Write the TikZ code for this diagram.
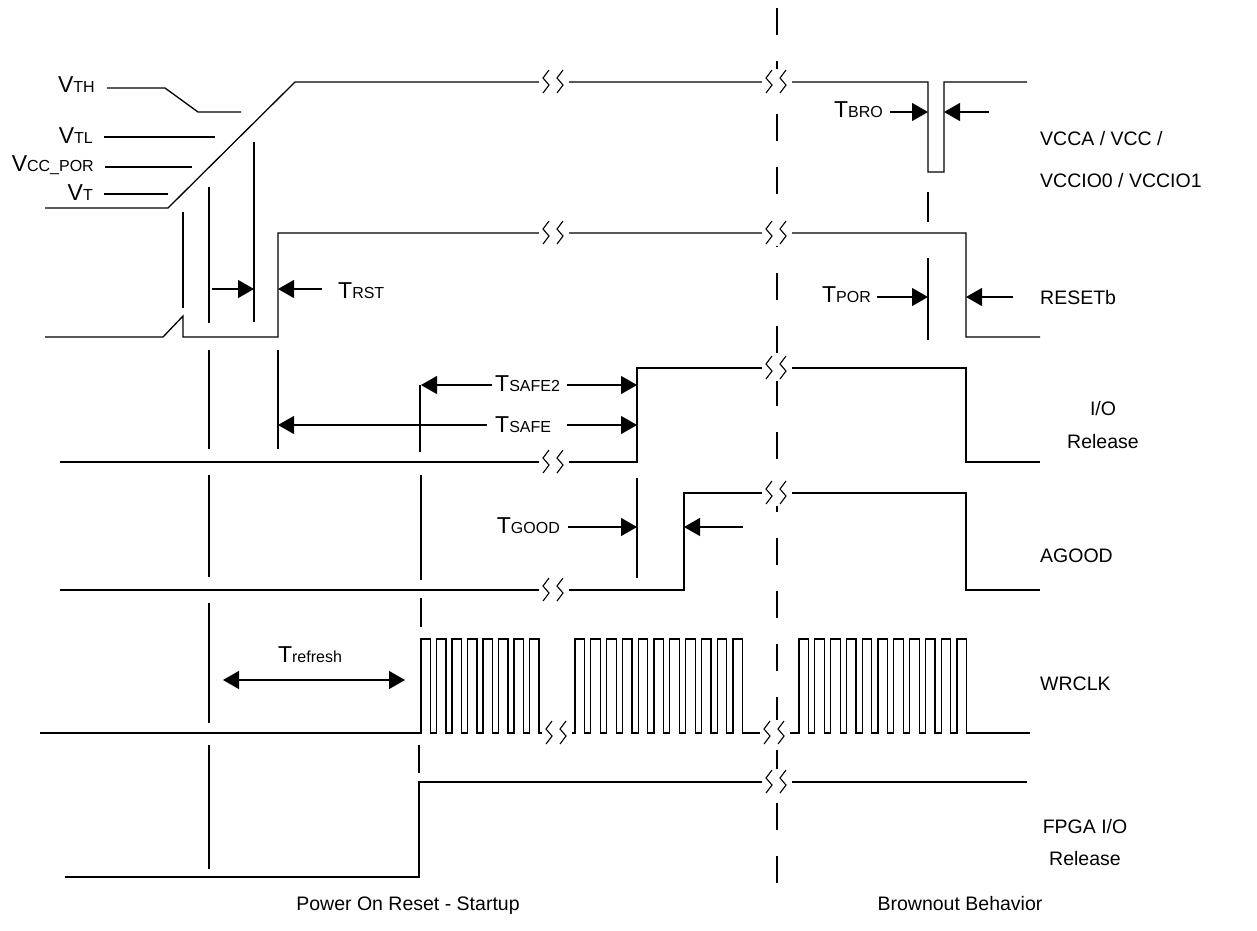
\documentclass[tikz,border=0pt]{standalone}
\usepackage{fontspec}
\setmainfont{Liberation Sans}
\usetikzlibrary{arrows.meta}
\newcommand\lbl[2]{{\fontsize{23}{26}\selectfont #1}{\fontsize{16}{18}\selectfont #2}}
\newcommand\brkmark[2]{%
 \fill[white] ({#1-15},{#2-13}) rectangle ({#1+15},{#2+13});
 \draw[brk] ({#1-5},{#2-12}) -- ({#1-11},{#2-4}) -- ({#1-5},{#2+3}) -- ({#1-11},{#2+11});
 \draw[brk] ({#1+9},{#2-12}) -- ({#1+3},{#2-4}) -- ({#1+9},{#2+3}) -- ({#1+3},{#2+11});
}
\begin{document}
\begin{tikzpicture}[x=1pt,y=-1pt,
  sig/.style={line width=1.3pt,line join=miter},
  mk/.style={line width=1.3pt},
  brk/.style={line width=1.1pt},
  arr/.style={line width=1.3pt,-{Triangle[length=16pt,width=18pt]}},
  darr/.style={line width=1.3pt,{Triangle[length=16pt,width=18pt]}-{Triangle[length=16pt,width=18pt]}},
  txt/.style={inner sep=0pt,font=\fontsize{19.5}{23}\selectfont},
  tl/.style={inner sep=0pt}]
\useasboundingbox (0,0) rectangle (1257,930);
% centre dash line
\draw[line width=1.3pt,dash pattern=on 27pt off 26pt] (777,8) -- (777,885);
% signals
\draw[sig] (45,208) -- (168,208) -- (295,82) -- (928,82) -- (928,172) -- (944,172) -- (944,82) -- (1027,82);
\draw[sig] (45,337) -- (163,337) -- (183,316) -- (183,337) -- (278,337) -- (278,233) -- (966,233) -- (966,337) -- (1040,337);
\draw[sig] (60,462) -- (637,462) -- (637,368) -- (966,368) -- (966,462) -- (1040,462);
\draw[sig] (60,590) -- (684,590) -- (684,493) -- (966,493) -- (966,590) -- (1040,590);
\draw[sig] (40,733)
  foreach \k in {0,...,7} { -- ({421+15.5*\k},733) -- ({421+15.5*\k},639) -- ({430.6+15.5*\k},639) -- ({430.6+15.5*\k},733) }
  foreach \k in {0,...,10} { -- ({575+15.8*\k},733) -- ({575+15.8*\k},639) -- ({584.6+15.8*\k},639) -- ({584.6+15.8*\k},733) }
  foreach \k in {0,...,10} { -- ({799+15.8*\k},733) -- ({799+15.8*\k},639) -- ({808.6+15.8*\k},639) -- ({808.6+15.8*\k},733) }
  -- (1030,733);
\draw[sig] (65,877) -- (419,877) -- (419,782) -- (1027,782);
% threshold lines
\draw[mk] (107,88) -- (165,88) -- (198,112) -- (241,112);
\draw[mk] (104,137) -- (215,137);
\draw[mk] (105,167) -- (192,167);
\draw[mk] (104,194) -- (168,194);
\node[tl,anchor=base east] (vth) at (95,92) {\lbl{V}{TH}};
\node[tl,anchor=base east] (vtl) at (93,143) {\lbl{V}{TL}};
\node[tl,anchor=base east] (vpor) at (94,171) {\lbl{V}{CC\_POR}};
\node[tl,anchor=base east] (vt) at (93,200) {\lbl{V}{T}};
% vertical markers
\draw[mk] (183,212) -- (183,308);
\draw[mk] (209,187) -- (209,323);
\draw[mk] (209,350) -- (209,449);
\draw[mk] (209,475) -- (209,577);
\draw[mk] (209,603) -- (209,723);
\draw[mk] (209,745) -- (209,869);
\draw[mk] (254,142) -- (254,322);
\draw[mk] (278,350) -- (278,449);
\draw[mk] (420,385) -- (420,452);
\draw[mk] (421,475) -- (421,580);
\draw[mk] (421,598) -- (421,627);
\draw[mk] (419,745) -- (419,773);
\draw[mk] (637,478) -- (637,578);
\draw[mk] (928,192) -- (928,222);
\draw[mk] (928,258) -- (928,340);
% breaks
\brkmark{554}{82}
\brkmark{777}{82}
\brkmark{554}{233}
\brkmark{777}{233}
\brkmark{554}{462}
\brkmark{777}{368}
\brkmark{554}{590}
\brkmark{777}{493}
\brkmark{557}{733}
\brkmark{775}{733}
\brkmark{777}{782}
% timing arrows
\coordinate (rstA) at (212,289); \coordinate (rstB) at (254,289);
\coordinate (rstC) at (322,289); \coordinate (rstD) at (278,289);
\draw[arr] (rstA) -- (rstB);
\draw[arr] (rstC) -- (rstD);
\node[tl,anchor=base west] (trst) at (338,298) {\lbl{T}{RST}};
\coordinate (broA) at (890,112); \coordinate (broB) at (928,112);
\coordinate (broC) at (989,112); \coordinate (broD) at (944,112);
\draw[arr] (broA) -- (broB);
\draw[arr] (broC) -- (broD);
\node[tl,anchor=base east] (tbro) at (883,117) {\lbl{T}{BRO}};
\coordinate (porA) at (877,297); \coordinate (porB) at (928,297);
\coordinate (porC) at (1013,297); \coordinate (porD) at (966,297);
\draw[arr] (porA) -- (porB);
\draw[arr] (porC) -- (porD);
\node[tl,anchor=base east] (tpor) at (871,302) {\lbl{T}{POR}};
\coordinate (s2A) at (492,385); \coordinate (s2B) at (421,385);
\coordinate (s2C) at (567,385); \coordinate (s2D) at (637,385);
\draw[arr] (s2A) -- (s2B);
\draw[arr] (s2C) -- (s2D);
\node[tl,anchor=base west] (tsafe2) at (495,391) {\lbl{T}{SAFE2}};
\coordinate (sA) at (487,425); \coordinate (sB) at (278,425);
\coordinate (sC) at (567,425); \coordinate (sD) at (637,425);
\draw[arr] (sA) -- (sB);
\draw[arr] (sC) -- (sD);
\node[tl,anchor=base west] (tsafe) at (495,432) {\lbl{T}{SAFE}};
\coordinate (gA) at (568,527); \coordinate (gB) at (637,527);
\coordinate (gC) at (743,527); \coordinate (gD) at (684,527);
\draw[arr] (gA) -- (gB);
\draw[arr] (gC) -- (gD);
\node[tl,anchor=base east] (tgood) at (560,533) {\lbl{T}{GOOD}};
\coordinate (rfA) at (223,680); \coordinate (rfB) at (405,680);
\draw[darr] (rfA) -- (rfB);
\node[tl,anchor=base] (tref) at (310,662) {\lbl{T}{refresh}};
% right labels
\node[txt,anchor=base west] (l1) at (1040,145) {VCCA / VCC /};
\node[txt,anchor=base west] (l2) at (1040,187) {VCCIO0 / VCCIO1};
\node[txt,anchor=base west] (l3) at (1040,304) {RESETb};
\node[txt,anchor=base] (l4) at (1103,415) {I/O};
\node[txt,anchor=base] (l5) at (1103,448) {Release};
\node[txt,anchor=base west] (l6) at (1040,562) {AGOOD};
\node[txt,anchor=base west] (l7) at (1040,690) {WRCLK};
\node[txt,anchor=base] (l8) at (1085,833) {FPGA I/O};
\node[txt,anchor=base] (l9) at (1085,865) {Release};
\node[txt,anchor=base] (b1) at (408,910) {Power On Reset - Startup};
\node[txt,anchor=base] (b2) at (960,910) {Brownout Behavior};
\end{tikzpicture}
\end{document}
